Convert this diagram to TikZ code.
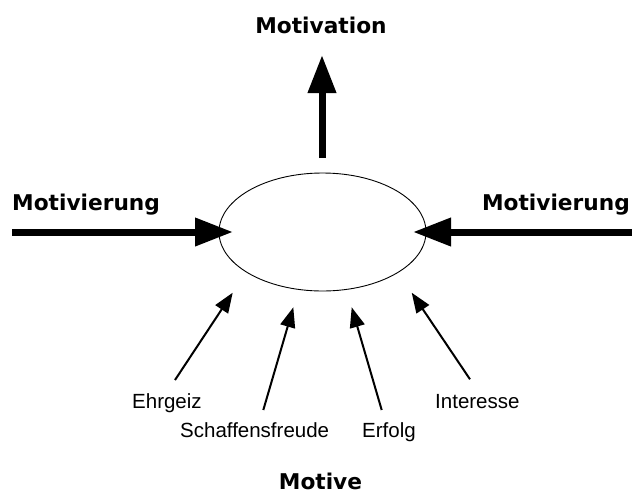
\documentclass[tikz,border=0pt]{standalone}
\usepackage{fontspec}
\setmainfont{Liberation Sans}
\newfontfamily\headfont{DejaVu Sans}
\usetikzlibrary{arrows.meta}
\begin{document}
\begin{tikzpicture}[x=1pt,y=-1pt,
  heading/.style={font=\headfont\bfseries\fontsize{21.7}{26}\selectfont, inner sep=0pt},
  motivelabel/.style={font=\fontsize{20.5}{24}\selectfont, inner sep=0pt},
  bigarrow/.style={line width=7pt, -{Triangle[length=38pt,width=27pt]}},
  smallarrow/.style={line width=2pt, -{Triangle[length=20pt,width=15pt]}}]
\useasboundingbox (0,0) rectangle (632,493);

% central ellipse
\draw[line width=0.9pt] (322.5,232) ellipse [x radius=103.5, y radius=59];
\coordinate (core) at (322.5,232);

% headings
\node[heading, anchor=base] (motivation) at (321,33) {Motivation};
\node[heading, anchor=base west] (mleft) at (12,210) {Motivierung};
\node[heading, anchor=base east] (mright) at (630,210) {Motivierung};
\node[heading, anchor=base] (motive) at (320.5,489) {Motive};

% outgoing motivation
\coordinate (upstart) at (322,158);
\coordinate (uptip) at (322,55);
\draw[bigarrow] (upstart) -- (uptip);

% external motivating influences
\coordinate (lstart) at (12,232);
\coordinate (ltip) at (233,232);
\draw[bigarrow] (lstart) -- (ltip);
\coordinate (rstart) at (632,232);
\coordinate (rtip) at (413,232);
\draw[bigarrow] (rstart) -- (rtip);

% individual motives
\node[motivelabel, anchor=base west] (ehrgeiz) at (132,408) {Ehrgeiz};
\node[motivelabel, anchor=base west] (schaffen) at (180,437) {Schaffensfreude};
\node[motivelabel, anchor=base west] (erfolg) at (362,437) {Erfolg};
\node[motivelabel, anchor=base west] (interesse) at (435,408) {Interesse};

\coordinate (a1) at (175,380);   \coordinate (t1) at (232.7,292.7);
\coordinate (a2) at (263.3,410); \coordinate (t2) at (293.3,307.3);
\coordinate (a3) at (381.7,410); \coordinate (t3) at (351.7,307.3);
\coordinate (a4) at (470,379.3); \coordinate (t4) at (411.7,292.7);
\draw[smallarrow] (a1) -- (t1);
\draw[smallarrow] (a2) -- (t2);
\draw[smallarrow] (a3) -- (t3);
\draw[smallarrow] (a4) -- (t4);
\end{tikzpicture}
\end{document}
